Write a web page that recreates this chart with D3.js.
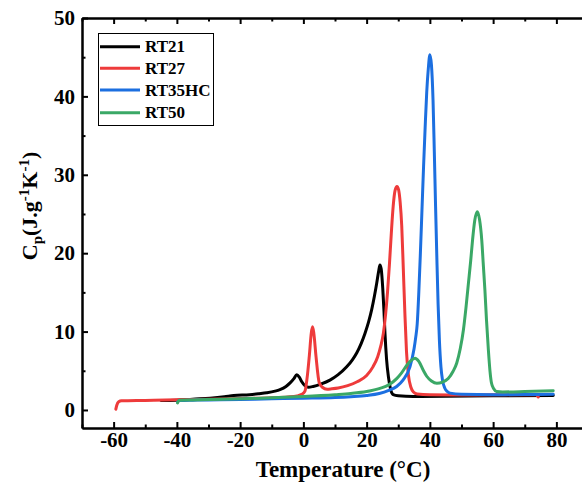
<!DOCTYPE html>
<html>
<head>
<meta charset="utf-8">
<script src="https://cdn.jsdelivr.net/npm/d3@7"></script>
<style>
  body { margin: 0; background: #fff; }
  svg { display: block; font-family: "Liberation Serif", "Times New Roman", serif; }
</style>
</head>
<body>
<svg id="chart" width="582" height="485"></svg>
<script>
// ---- data (Temperature °C, Cp J/g/K) ----
const seriesNames = ["RT21", "RT27", "RT35HC", "RT50"];
const seriesColors = ["#000000", "#ee3b3b", "#1c6fe0", "#3aa866"];

const rt21 = [[-45,1.2],[-40,1.25],[-35,1.38],[-29.5,1.5],[-25,1.68],[-22,1.85],[-17,1.95],[-14,2.08],[-11.6,2.2],[-9,2.4],[-7.4,2.6],[-5.5,3.0],[-4.2,3.45],[-3,4.0],[-2.1,4.5],[-1.3,4.2],[-0.5,3.6],[0.5,3.1],[1.6,2.9],[3.1,3.0],[5.5,3.3],[8.4,3.8],[11,4.5],[13.7,5.5],[15.5,6.4],[16.9,7.3],[18.3,8.5],[19.5,9.8],[20.6,11.2],[21.6,12.8],[22.5,14.6],[23.2,16.2],[23.8,17.7],[24.2,18.5],[24.6,18.0],[25.1,15.5],[25.5,12.5],[25.8,9.8],[26.3,6.5],[26.9,4.2],[27.6,2.6],[28.4,1.95],[30,1.8],[34.8,1.72],[45,1.75],[60,1.8],[79,1.85]];

const rt27 = [[-59.3,0.1],[-59.0,0.6],[-58.4,1.05],[-57.5,1.17],[-50,1.22],[-40,1.3],[-30,1.38],[-20,1.45],[-10,1.55],[-5,1.65],[-2,1.8],[-0.5,2.0],[0.5,2.4],[1.3,4.5],[1.9,7.0],[2.5,9.8],[2.9,10.6],[3.3,9.8],[4.0,6.8],[5.0,3.5],[6.0,2.9],[7.5,2.65],[9,2.7],[11,2.8],[14,3.1],[17,3.6],[20,4.4],[22,5.5],[23.5,6.8],[24.5,8.2],[25.3,9.8],[26.0,12.2],[26.6,15],[27.2,18.5],[27.8,22.5],[28.4,26],[29.0,28],[29.6,28.5],[30.1,28.1],[30.6,26.5],[31.1,23.5],[31.6,18],[32.1,12.3],[32.6,7.5],[33.2,4.5],[34,2.9],[34.8,2.3],[36,2.05],[40,1.95],[50,1.92],[60,1.93],[70,1.95],[73.5,1.95],[74.3,1.65]];

const rt35hc = [[-39.7,1.05],[-39.2,1.2],[-35,1.25],[-30,1.28],[-20,1.35],[-10,1.42],[0,1.5],[10,1.6],[15,1.7],[20,1.85],[24,2.1],[27,2.5],[29.5,3.0],[31.5,3.8],[33.7,5.5],[35,7.8],[35.5,9.2],[36.0,11],[36.5,15],[37.0,20],[37.5,25.5],[38.0,31],[38.5,36],[39.0,40.5],[39.5,43.5],[40.0,45.3],[40.5,44],[41.0,39.5],[41.4,33],[41.8,26],[42.2,19.5],[42.6,13.5],[43.0,9],[43.5,5.5],[44.0,3.8],[44.7,2.8],[45.5,2.35],[46.4,2.15],[50,2.0],[60,1.95],[70,1.97],[79,2.0]];

const rt50 = [[-39.8,0.9],[-39.5,1.15],[-39,1.25],[-35,1.28],[-30,1.32],[-20,1.42],[-10,1.55],[0,1.72],[10,1.95],[15,2.1],[20,2.35],[24.2,2.75],[27,3.2],[29.5,4.0],[31,4.7],[32.7,5.7],[34,6.3],[35.3,6.6],[36.5,6.2],[38,5.0],[39,4.3],[40.5,3.7],[42.2,3.4],[44,3.55],[45.8,4.0],[47.3,4.9],[48.5,6.0],[49.6,7.8],[50.6,10.2],[51.4,13],[52.2,16.2],[52.9,19],[53.5,21.7],[54.2,24.2],[55,25.3],[55.7,24.3],[56.4,21.7],[56.9,18.5],[57.4,15.3],[57.9,11.5],[58.5,7.65],[59.0,5.0],[59.5,3.4],[60.2,2.7],[61.1,2.35],[63,2.3],[70,2.35],[79,2.45]];

const seriesData = [rt21, rt27, rt35hc, rt50];

const xMajorTicks = [-60, -40, -20, 0, 20, 40, 60, 80];
const xMinorTicks = [-70, -50, -30, -10, 10, 30, 50, 70, 90];
const yMajorTicks = [0, 10, 20, 30, 40, 50];
const yMinorTicks = [5, 15, 25, 35, 45];

// ---- layout ----
const svg = d3.select("#chart");
const x = d3.scaleLinear().domain([-70, 90]).range([82, 588]);
const y = d3.scaleLinear().domain([-2.3, 50]).range([428, 18]);

const tickFont = "bold 21px 'Liberation Serif', serif";

function styleAxis(g, labels) {
  g.select(".domain").attr("stroke", "#000").attr("stroke-width", 2);
  g.selectAll(".tick line").attr("stroke", "#000").attr("stroke-width", 2);
  if (!labels) g.selectAll(".tick text").remove();
  else g.selectAll(".tick text").attr("fill", "#000").style("font", tickFont);
}

// bottom
svg.append("g").attr("transform", `translate(0,${y.range()[0]})`)
  .call(d3.axisBottom(x).tickValues(xMajorTicks).tickSize(-6).tickSizeOuter(0).tickPadding(4).tickFormat(d => d))
  .call(g => styleAxis(g, true));
svg.append("g").attr("transform", `translate(0,${y.range()[0]})`)
  .call(d3.axisBottom(x).tickValues(xMinorTicks).tickSize(-3.5).tickSizeOuter(0))
  .call(g => styleAxis(g, false));
// top
svg.append("g").attr("transform", `translate(0,${y.range()[1]})`)
  .call(d3.axisTop(x).tickValues(xMajorTicks).tickSize(-6).tickSizeOuter(0))
  .call(g => styleAxis(g, false));
svg.append("g").attr("transform", `translate(0,${y.range()[1]})`)
  .call(d3.axisTop(x).tickValues(xMinorTicks).tickSize(-3.5).tickSizeOuter(0))
  .call(g => styleAxis(g, false));
// left
svg.append("g").attr("transform", `translate(${x.range()[0]},0)`)
  .call(d3.axisLeft(y).tickValues(yMajorTicks).tickSize(-6).tickSizeOuter(0).tickPadding(7))
  .call(g => styleAxis(g, true));
svg.append("g").attr("transform", `translate(${x.range()[0]},0)`)
  .call(d3.axisLeft(y).tickValues(yMinorTicks).tickSize(-3.5).tickSizeOuter(0))
  .call(g => styleAxis(g, false));
// right
svg.append("g").attr("transform", `translate(${x.range()[1]},0)`)
  .call(d3.axisRight(y).tickValues(yMajorTicks).tickSize(-6).tickSizeOuter(0))
  .call(g => styleAxis(g, false));
svg.append("g").attr("transform", `translate(${x.range()[1]},0)`)
  .call(d3.axisRight(y).tickValues(yMinorTicks).tickSize(-3.5).tickSizeOuter(0))
  .call(g => styleAxis(g, false));

// ---- lines ----
const line = d3.line().x(d => x(d[0])).y(d => y(d[1])).curve(d3.curveMonotoneX);
seriesData.forEach((data, i) => {
  svg.append("path")
    .datum(data)
    .attr("fill", "none")
    .attr("stroke", seriesColors[i])
    .attr("stroke-width", 3)
    .attr("stroke-linecap", "round")
    .attr("stroke-linejoin", "round")
    .attr("d", line);
});

// ---- legend ----
const legend = svg.append("g");
legend.append("rect").attr("x", 98.5).attr("y", 33.5).attr("width", 115).attr("height", 92)
  .attr("fill", "#fff").attr("stroke", "#000").attr("stroke-width", 1);
const rowY = [46.7, 68.3, 90, 112.7];
seriesNames.forEach((name, i) => {
  legend.append("line").attr("x1", 100).attr("x2", 140).attr("y1", rowY[i]).attr("y2", rowY[i])
    .attr("stroke", seriesColors[i]).attr("stroke-width", 3);
  legend.append("text").attr("x", 145).attr("y", rowY[i]).attr("dy", "0.34em")
    .style("font", "bold 17px 'Liberation Serif', serif").attr("fill", "#000").text(name);
});

// ---- axis titles ----
svg.append("text").attr("x", 343).attr("y", 477).attr("text-anchor", "middle")
  .style("font", "bold 23px 'Liberation Serif', serif").text("Temperature (°C)");

const yt = svg.append("text").attr("transform", "translate(37,206) rotate(-90)")
  .attr("text-anchor", "middle").style("font", "bold 22px 'Liberation Serif', serif");
yt.append("tspan").text("C");
yt.append("tspan").attr("dy", 5).style("font-size", "15px").text("p");
yt.append("tspan").attr("dy", -5).text("(J.g");
yt.append("tspan").attr("dy", -8).style("font-size", "15px").text("-1");
yt.append("tspan").attr("dy", 8).text("K");
yt.append("tspan").attr("dy", -8).style("font-size", "15px").text("-1");
yt.append("tspan").attr("dy", 8).text(")");
</script>
</body>
</html>
